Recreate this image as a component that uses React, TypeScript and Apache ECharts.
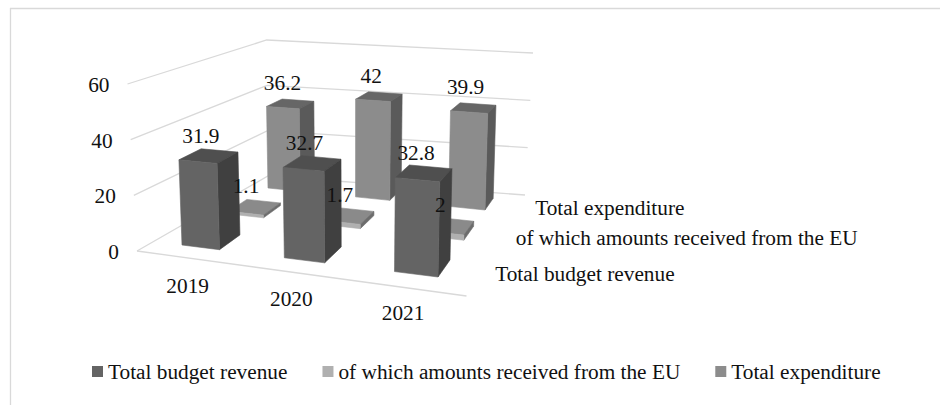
import React, { useEffect, useRef } from "react";
import * as echarts from "echarts";

const categories = ["2019", "2020", "2021"];
const seriesNames = ["Total budget revenue", "of which amounts received from the EU", "Total expenditure"];
const totalBudgetRevenue = [31.9, 32.7, 32.8];
const receivedFromEU = [1.1, 1.7, 2];
const totalExpenditure = [36.2, 42, 39.9];
const valueTicks = [0, 20, 40, 60];

const FONT = '"Liberation Serif", "Times New Roman", serif';
const TEXT = "#111111";
const GRID = "#d9d9d9";
const FONT_SIZE = 21.3;

// box corners on screen: the walls and the floor's front edge
const WALL_FL = [[137, 251], [127.5, 84]];
const WALL_BL = [[268, 176], [266.7, 40]];
const WALL_BR = [[525, 195], [533, 53]];
const FLOOR_FR = [466.5, 296];

// camera calibration for the bars: the floor quad spanned by the first and last
// bar of the front and back rows, and upright references (s, v, share of the value axis, screen point)
const Q00 = [182, 245], Q10 = [438, 277], Q11 = [485, 210], Q01 = [268, 188];
const uprights: [number, number, number, number[]][] = [
  [0, 0, 31.9 / 60, [179, 160]],
  [0.421, 0, 32.7 / 60, [283, 168]],
  [0.842, 0, 32.8 / 60, [394, 178]],
  [0, 1, 36.2 / 60, [267, 106]],
  [0.421, 1, 42 / 60, [356, 99]],
  [1, 1, 39.9 / 60, [488, 113]],
];

const faces = [
  { front: "#646464", side: "#404040", top: "#4f4f4f" },
  { front: "#b0b0b0", side: "#6c6c6c", top: "#8a8a8a" },
  { front: "#8c8c8c", side: "#5a5a5a", top: "#666666" },
];
const BAR_W = 0.375;
const ROW_FRONT = [0, 0.5, 1];
const BAR_D = 0.22;
const labelOffset = [[-8, -20], [-9, -21], [-8, -21]];
const depthLabelOffset = [[51, 6], [47, 5], [46, 4]];

function fitProjection() {
  const sx = Q00[0] - Q10[0] + Q11[0] - Q01[0];
  const sy = Q00[1] - Q10[1] + Q11[1] - Q01[1];
  const dx1 = Q10[0] - Q11[0], dx2 = Q01[0] - Q11[0], dy1 = Q10[1] - Q11[1], dy2 = Q01[1] - Q11[1];
  const det = dx1 * dy2 - dx2 * dy1;
  const g = (sx * dy2 - dx2 * sy) / det;
  const h = (dx1 * sy - sx * dy1) / det;
  const a = Q10[0] - Q00[0] + g * Q10[0], b = Q01[0] - Q00[0] + h * Q01[0], c = Q00[0];
  const d = Q10[1] - Q00[1] + g * Q10[1], e = Q01[1] - Q00[1] + h * Q01[1], f = Q00[1];
  const Ax = uprights.map(([u, v, t, P]) => (P[0] * (g * u + h * v + 1) - (a * u + b * v + c)) / t);
  const Ay = uprights.map(([u, v, t, P]) => (P[1] * (g * u + h * v + 1) - (d * u + e * v + f)) / t);
  const mean = (l: number[]) => l.reduce((s, x) => s + x, 0) / l.length;
  const Xs = uprights.map((k) => k[3][0]), Ys = uprights.map((k) => k[3][1]);
  const mX = mean(Xs), mY = mean(Ys), mAx = mean(Ax), mAy = mean(Ay);
  let num = 0, den = 0;
  uprights.forEach((_, i) => {
    num += (Xs[i] - mX) * (Ax[i] - mAx) + (Ys[i] - mY) * (Ay[i] - mAy);
    den += (Xs[i] - mX) ** 2 + (Ys[i] - mY) ** 2;
  });
  const r = -num / den;
  const p = mAx + mX * r;
  const q = mAy + mY * r;
  return (u: number, v: number, t: number) => {
    const w = g * u + h * v + 1 + r * t;
    return [(a * u + b * v + c + p * t) / w, (d * u + e * v + f + q * t) / w];
  };
}
const project = fitProjection();
const lerp = (c: number[][], t: number) => [c[0][0] + (c[1][0] - c[0][0]) * t, c[0][1] + (c[1][1] - c[0][1]) * t];

function text(str: string, pos: number[], align = "center") {
  return {
    type: "text",
    x: pos[0],
    y: pos[1],
    style: { text: str, fontFamily: FONT, fontSize: FONT_SIZE, fill: TEXT, align, verticalAlign: "middle" },
  };
}
// position on the floor quad (s) and share of the value axis (t), read through the axes
function normalised(params: any, api: any, cat: number, val: number) {
  const cs = params.coordSys;
  const pt = api.coord([cat, val]);
  const u = (pt[0] - cs.x) / cs.width;
  const band = api.size([1, 0])[0] / cs.width;
  const hw = (band * BAR_W) / 2;
  const span = 1 - band + 2 * hw;
  const s = (u - (band / 2 - hw)) / span;
  return { s, t: 1 - (pt[1] - cs.y) / cs.height, sw: (2 * hw) / span };
}
const poly = (points: number[][], fill: string) => ({
  type: "polygon",
  shape: { points },
  style: { fill, stroke: fill, lineWidth: 0.6 },
});
const line = (points: number[][]) => ({
  type: "polyline",
  shape: { points },
  style: { stroke: GRID, lineWidth: 1.3, fill: "none" },
});

function barRenderer(row: number) {
  return (params: any, api: any) => {
    const { s, t, sw } = normalised(params, api, api.value(0), api.value(1));
    const u0 = s - sw / 2, u1 = s + sw / 2;
    const v0 = ROW_FRONT[row], v1 = v0 + BAR_D;
    const c = faces[row];
    return {
      type: "group",
      children: [
        poly([project(u0, v0, t), project(u1, v0, t), project(u1, v1, t), project(u0, v1, t)], c.top),
        poly([project(u1, v0, 0), project(u1, v1, 0), project(u1, v1, t), project(u1, v0, t)], c.side),
        poly([project(u0, v0, 0), project(u1, v0, 0), project(u1, v0, t), project(u0, v0, t)], c.front),
      ],
    };
  };
}

const rows = [totalBudgetRevenue, receivedFromEU, totalExpenditure];
const labelData = rows.flatMap((vals, row) => vals.map((v, i) => [i, v, row]));

export default function App() {
  const ref = useRef<HTMLDivElement>(null);
  useEffect(() => {
    const chart = echarts.init(ref.current!, undefined, { renderer: "svg" });
    chart.setOption({
      animation: false,
      backgroundColor: "#ffffff",
      graphic: [
        { type: "line", shape: { x1: 10, y1: 8.5, x2: 940, y2: 8.5 }, style: { stroke: GRID, lineWidth: 1.3 } },
        { type: "line", shape: { x1: 10.5, y1: 8, x2: 10.5, y2: 405 }, style: { stroke: GRID, lineWidth: 1.3 } },
      ],
      legend: {
        data: seriesNames.map((name) => ({ name, icon: "rect" })),
        left: 92,
        top: 361,
        padding: 0,
        itemWidth: 11,
        itemHeight: 11,
        itemGap: 35,
        textStyle: { fontFamily: FONT, fontSize: FONT_SIZE, color: TEXT },
        selectedMode: false,
      },
      grid: { left: 0, right: 0, top: 0, bottom: 0 },
      xAxis: { type: "category", data: categories, show: false },
      yAxis: { type: "value", min: 0, max: 60, interval: 20, show: false },
      series: [
        {
          type: "custom",
          name: "grid",
          z: 1,
          silent: true,
          data: valueTicks.map((v) => [0, v]),
          encode: { x: 0, y: 1 },
          renderItem: (params: any, api: any) => {
            const { t } = normalised(params, api, 0, api.value(1));
            const a = lerp(WALL_FL, t), b = lerp(WALL_BL, t), c = lerp(WALL_BR, t);
            const children: any[] = [line([a, b, c]), text(String(api.value(1)), [a[0] - 18, a[1] + 1], "right")];
            if (t === 0) children.push(line([a, FLOOR_FR]));
            return { type: "group", children };
          },
        },
        ...seriesNames.map((name, row) => ({
          type: "custom",
          name,
          z: 4 - row,
          silent: true,
          itemStyle: { color: faces[row].front },
          data: rows[row].map((v, i) => [i, v]),
          encode: { x: 0, y: 1 },
          renderItem: barRenderer(row),
        })),
        {
          type: "custom",
          name: "categoryLabels",
          z: 6,
          silent: true,
          data: categories.map((_, i) => [i, 0]),
          encode: { x: 0, y: 1 },
          renderItem: (params: any, api: any) => {
            const { s } = normalised(params, api, api.value(0), 0);
            const p = project(s, 0, 0);
            return text(categories[params.dataIndex], [p[0] - 13, p[1] + 39]);
          },
        },
        {
          type: "custom",
          name: "depthLabels",
          z: 6,
          silent: true,
          data: seriesNames.map(() => [2, 0]),
          encode: { x: 0, y: 1 },
          renderItem: (params: any) => {
            const row = params.dataIndex;
            const p = project(1, ROW_FRONT[row] + BAR_D / 2, 0);
            return text(seriesNames[row], [p[0] + depthLabelOffset[row][0], p[1] + depthLabelOffset[row][1]], "left");
          },
        },
        {
          type: "custom",
          name: "dataLabels",
          z: 7,
          silent: true,
          data: labelData,
          encode: { x: 0, y: 1 },
          renderItem: (params: any, api: any) => {
            const { s, t } = normalised(params, api, api.value(0), api.value(1));
            const row = api.value(2);
            const p = project(s, ROW_FRONT[row] + BAR_D / 2, t);
            return text(String(api.value(1)), [p[0] + labelOffset[row][0], p[1] + labelOffset[row][1]]);
          },
        },
      ],
    });
    return () => chart.dispose();
  }, []);
  return <div ref={ref} style={{ position: "absolute", left: 0, top: 0, width: 940, height: 405 }} />;
}
